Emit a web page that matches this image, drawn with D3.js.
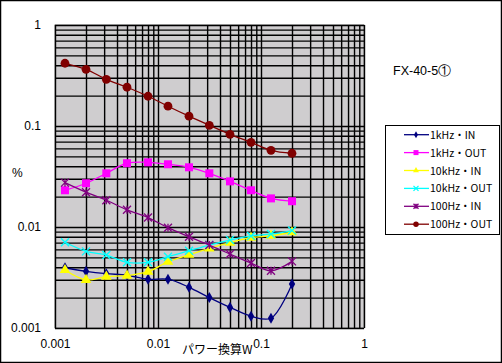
<!DOCTYPE html>
<html lang="ja">
<head>
<meta charset="utf-8">
<title>FX-40-5</title>
<script src="https://cdn.jsdelivr.net/npm/d3@7"></script>
<style>
body { margin:0; background:#fff; }
svg { display:block; font-family:"Liberation Sans", Arial, sans-serif; }
.tick text { font-size:12px; fill:#000; }
.domain { display:none; }
.grid line { stroke:#000; stroke-width:1.4; }
.legend text { font-size:10.5px; fill:#000; }
</style>
</head>
<body>
<svg width="502" height="363"></svg>
<script>
// power (W) at each measuring step
var power = [0.00125, 0.002, 0.00315, 0.005, 0.008, 0.0125, 0.02, 0.0315, 0.05, 0.08, 0.125, 0.2];

var seriesNames = ["1kHz・IN", "1kHz・OUT", "10kHz・IN", "10kHz・OUT", "100Hz・IN", "100Hz・OUT"];

var khz1In   = [0.00395, 0.00364, 0.00345, 0.00333, 0.00304, 0.00304, 0.00253, 0.0020, 0.0016, 0.00131, 0.00125, 0.00273];
var khz1Out  = [0.0231, 0.0271, 0.0340, 0.0428, 0.0437, 0.0418, 0.0390, 0.0340, 0.0283, 0.0231, 0.0192, 0.0180];
var khz10In  = [0.00375, 0.00299, 0.00322, 0.0033, 0.00361, 0.00453, 0.00532, 0.00615, 0.0070, 0.00783, 0.0082, 0.00887];
var khz10Out = [0.00706, 0.00574, 0.00528, 0.00447, 0.00447, 0.00508, 0.00582, 0.00663, 0.00743, 0.00815, 0.00853, 0.00923];
var hz100In  = [0.0275, 0.0221, 0.0184, 0.0148, 0.0124, 0.00984, 0.00802, 0.00663, 0.0054, 0.0044, 0.00369, 0.00457];
var hz100Out = [0.418, 0.364, 0.290, 0.242, 0.197, 0.157, 0.125, 0.1016, 0.0828, 0.069, 0.0574, 0.0537];

var xTickLabels = ["0.001", "0.01", "0.1", "1"];
var yTickLabels = ["0.001", "0.01", "0.1", "1"];

var colours = ["#000080", "#ff00ff", "#ffff00", "#00ffff", "#800080", "#800000"];
var symbols = ["diamond", "square", "triangle", "x", "star", "circle"];

var allSeries = [khz1In, khz1Out, khz10In, khz10Out, hz100In, hz100Out];

var svg = d3.select("svg");
var plot = {left: 55, top: 25, right: 364, bottom: 328};

var x = d3.scaleLog().domain([0.001, 1]).range([plot.left, plot.right]);
var y = d3.scaleLog().domain([0.001, 1]).range([plot.bottom, plot.top]);

// outer frame
svg.append("rect")
	.attr("x", 0.5).attr("y", 0.5)
	.attr("width", 501).attr("height", 362)
	.attr("fill", "#fff").attr("stroke", "#000").attr("stroke-width", 1.5);

// plot area
svg.append("rect")
	.attr("x", plot.left).attr("y", plot.top)
	.attr("width", plot.right - plot.left).attr("height", plot.bottom - plot.top)
	.attr("fill", "#cfcdcf").attr("stroke", "#808080");

var minorValues = [];
[0.001, 0.01, 0.1].forEach(function(d) {
	for (var i = 1; i < 10; i++) minorValues.push(d * i);
});
minorValues.push(1);

// gridlines
svg.append("g").attr("class", "grid")
	.attr("transform", "translate(0," + plot.bottom + ")")
	.call(d3.axisBottom(x).tickValues(minorValues).tickSize(-(plot.bottom - plot.top)).tickFormat(""));
svg.append("g").attr("class", "grid")
	.attr("transform", "translate(" + plot.left + ",0)")
	.call(d3.axisLeft(y).tickValues(minorValues).tickSize(-(plot.right - plot.left)).tickFormat(""));

// axes labels
svg.append("g")
	.attr("transform", "translate(0," + (plot.bottom + 8) + ")")
	.call(d3.axisBottom(x).tickValues(xTickLabels.map(Number)).tickSize(0).tickFormat(function(d, i) { return xTickLabels[i]; }))
	.selectAll("text").attr("dy", "0.71em");
svg.append("g")
	.attr("transform", "translate(" + (plot.left - 11) + ",0)")
	.call(d3.axisLeft(y).tickValues(yTickLabels.map(Number)).tickSize(0).tickFormat(function(d, i) { return yTickLabels[i]; }));

var line = d3.line()
	.x(function(d, i) { return x(power[i]); })
	.y(function(d) { return y(d); })
	.curve(d3.curveCatmullRom.alpha(0.5));

function drawMarker(g, type, colour, size) {
	if (type == "circle") {
		g.append("circle").attr("r", size * 0.55).attr("fill", colour);
	} else if (type == "square") {
		g.append("rect").attr("x", -size / 2).attr("y", -size / 2).attr("width", size).attr("height", size).attr("fill", colour);
	} else if (type == "diamond") {
		g.append("path").attr("d", d3.symbol(d3.symbolDiamond, size * size * 0.55)).attr("fill", colour);
	} else if (type == "triangle") {
		g.append("path").attr("d", d3.symbol(d3.symbolTriangle, size * size * 0.6)).attr("fill", colour);
	} else if (type == "x") {
		var h = size / 2;
		g.append("path").attr("d", "M" + -h + "," + -h + "L" + h + "," + h + "M" + -h + "," + h + "L" + h + "," + -h)
			.attr("stroke", colour).attr("stroke-width", 1.3).attr("fill", "none");
	} else if (type == "star") {
		var s = size / 2;
		g.append("path").attr("d", "M" + -s + "," + -s + "L" + s + "," + s + "M" + -s + "," + s + "L" + s + "," + -s + "M0," + -s + "L0," + s)
			.attr("stroke", colour).attr("stroke-width", 1.3).attr("fill", "none");
	}
}

var markerSize = [8, 8, 9, 8, 8, 8];

allSeries.forEach(function(vals, k) {
	svg.append("path")
		.datum(vals)
		.attr("d", line)
		.attr("fill", "none")
		.attr("stroke", colours[k])
		.attr("stroke-width", 1.3);
	vals.forEach(function(v, i) {
		var g = svg.append("g").attr("transform", "translate(" + x(power[i]) + "," + y(v) + ")");
		drawMarker(g, symbols[k], colours[k], markerSize[k]);
	});
});

// title
svg.append("text")
	.attr("x", 393).attr("y", 75)
	.attr("font-size", "12.5px")
	.text("FX-40-5①");

// axis titles
svg.append("text")
	.attr("x", 182).attr("y", 354)
	.attr("font-family", "'Noto Sans CJK JP', sans-serif")
	.attr("font-size", "12px")
	.text("パワー換算W");
svg.append("text")
	.attr("x", 12).attr("y", 177)
	.attr("font-size", "12px")
	.text("%");

// legend
var legend = svg.append("g").attr("class", "legend");
legend.append("rect")
	.attr("x", 385.5).attr("y", 125.5)
	.attr("width", 114).attr("height", 109)
	.attr("fill", "#fff").attr("stroke", "#000");

seriesNames.forEach(function(name, k) {
	var ly = 134.7 + k * 17.9;
	legend.append("line")
		.attr("x1", 404).attr("x2", 429).attr("y1", ly).attr("y2", ly)
		.attr("stroke", colours[k]).attr("stroke-width", 1.3);
	var g = legend.append("g").attr("transform", "translate(416," + ly + ")");
	drawMarker(g, symbols[k], colours[k], 5);
	legend.append("text")
		.attr("x", 430).attr("y", ly + 4)
		.attr("font-family", "'Noto Sans CJK JP', sans-serif")
		.text(name);
});
</script>
</body>
</html>
